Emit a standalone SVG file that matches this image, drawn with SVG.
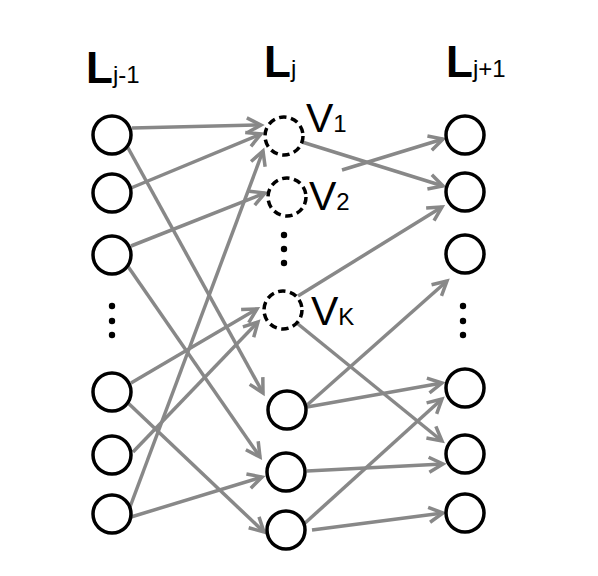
<svg xmlns="http://www.w3.org/2000/svg" width="598" height="576" viewBox="0 0 598 576">
<style>
.n{fill:none;stroke:#000;stroke-width:3.5}
.d{fill:none;stroke:#000;stroke-width:3.5;stroke-dasharray:7.5 4.5}
.e{fill:none;stroke:#888;stroke-width:3.5;marker-end:url(#ah)}
.big{font-family:"Liberation Sans",Arial,sans-serif;font-weight:bold;font-size:44px}
.v{font-family:"Liberation Sans",Arial,sans-serif;font-size:41px}
.sub{font-family:"Liberation Sans",Arial,sans-serif;font-weight:normal;font-size:24px}
.dot{fill:#000}
</style>
<defs>
<marker id="ah" markerUnits="userSpaceOnUse" markerWidth="20" markerHeight="20" viewBox="-18 -10 20 20" refX="0" refY="0" orient="auto" overflow="visible">
<path d="M-14,-7.5 L0,0 L-14,7.5" fill="none" stroke="#888" stroke-width="3.5"/>
</marker>
</defs>
<rect width="598" height="576" fill="#fff"/>
<g id="labels">
<text x="86" y="83"><tspan class="big">L</tspan><tspan class="sub">j-1</tspan></text>
<text x="264" y="77"><tspan class="big">L</tspan><tspan class="sub">j</tspan></text>
<text x="446" y="77"><tspan class="big">L</tspan><tspan class="sub">j+1</tspan></text>
</g>
<g id="connectors">
<path class="e" d="M132,128 L261,125"/>
<path class="e" d="M127,146 L263,393"/>
<path class="e" d="M131,188 L261,134"/>
<path class="e" d="M131,246 L265,193"/>
<path class="e" d="M127,265 L260,457"/>
<path class="e" d="M131,383 L257,309"/>
<path class="e" d="M127,402 L264,532"/>
<path class="e" d="M133,452 L258,322"/>
<path class="e" d="M130,507 L263,151"/>
<path class="e" d="M131,517 L262,477"/>
<path class="e" d="M302,142 L443,186"/>
<path class="e" d="M342,170 L443,139"/>
<path class="e" d="M298,296 L442,207"/>
<path class="e" d="M298,324 L442,441"/>
<path class="e" d="M306,406 L447,281"/>
<path class="e" d="M307,407 L442,383"/>
<path class="e" d="M307,471 L443,464"/>
<path class="e" d="M304,524 L442,399"/>
<path class="e" d="M312,530 L443,513"/>
</g>
<g id="left-1"><circle class="n" cx="112" cy="135" r="19"/></g>
<g id="left-2"><circle class="n" cx="112" cy="193" r="19"/></g>
<g id="left-3"><circle class="n" cx="112" cy="255" r="19"/></g>
<g id="left-dots"><circle class="dot" cx="112" cy="306" r="3.2"/><circle class="dot" cx="112" cy="321" r="3.2"/><circle class="dot" cx="112" cy="335" r="3.2"/></g>
<g id="left-4"><circle class="n" cx="112" cy="392" r="19"/></g>
<g id="left-5"><circle class="n" cx="112" cy="455" r="19"/></g>
<g id="left-6"><circle class="n" cx="112" cy="514" r="19"/></g>
<g id="v1"><circle class="d" cx="284" cy="136" r="19"/><text x="306" y="132"><tspan class="v">V</tspan><tspan class="sub">1</tspan></text></g>
<g id="v2"><circle class="d" cx="287" cy="197" r="19"/><text x="309" y="210"><tspan class="v">V</tspan><tspan class="sub">2</tspan></text></g>
<g id="mid-dots"><circle class="dot" cx="284" cy="235" r="3.2"/><circle class="dot" cx="284" cy="249" r="3.2"/><circle class="dot" cx="284" cy="263" r="3.2"/></g>
<g id="vk"><circle class="d" cx="283" cy="310" r="19"/><text x="311" y="325"><tspan class="v">V</tspan><tspan class="sub">K</tspan></text></g>
<g id="mid-4"><circle class="n" cx="287" cy="410" r="19"/></g>
<g id="mid-5"><circle class="n" cx="286" cy="472" r="19"/></g>
<g id="mid-6"><circle class="n" cx="286" cy="530" r="19"/></g>
<g id="right-1"><circle class="n" cx="465" cy="135" r="19"/></g>
<g id="right-2"><circle class="n" cx="465" cy="192" r="19"/></g>
<g id="right-3"><circle class="n" cx="465" cy="254" r="19"/></g>
<g id="right-dots"><circle class="dot" cx="463" cy="306" r="3.2"/><circle class="dot" cx="463" cy="321" r="3.2"/><circle class="dot" cx="463" cy="335" r="3.2"/></g>
<g id="right-4"><circle class="n" cx="465" cy="388" r="19"/></g>
<g id="right-5"><circle class="n" cx="465" cy="454" r="19"/></g>
<g id="right-6"><circle class="n" cx="465" cy="513" r="19"/></g>
</svg>
